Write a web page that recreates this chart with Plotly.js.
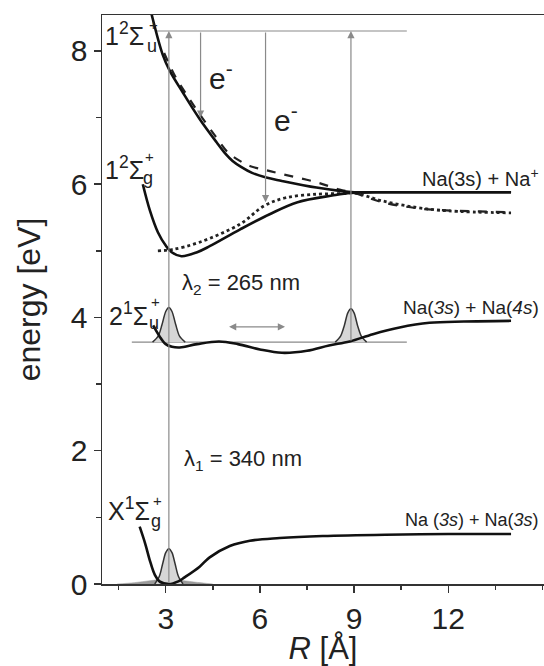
<!DOCTYPE html>
<html><head><meta charset="utf-8">
<script src="https://cdn.plot.ly/plotly-3.0.1.min.js"></script>
<style>html,body{margin:0;padding:0;background:#fff}</style>
</head><body><div id="chart" style="width:544px;height:666px"></div>
<script>
// ---- Potential energy curves (R in Å, energy in eV) ----
const groundR = [2.17, 2.35, 2.49, 2.65, 2.8, 3.1, 3.4, 3.6, 4.08, 4.4, 5.04, 5.68, 6.63, 8.0, 10.0, 12.0, 14.0];
const groundE = [0.86, 0.6, 0.36, 0.14, 0.04, 0.0, 0.04, 0.1, 0.26, 0.4, 0.57, 0.65, 0.69, 0.72, 0.74, 0.75, 0.75];

const excR = [2.6, 2.8, 3.0, 3.2, 3.45, 4.0, 4.7, 5.3, 6.0, 6.7, 7.5, 8.2, 8.86, 9.6, 10.45, 11.4, 12.5, 14.0];
const excE = [3.88, 3.72, 3.6, 3.56, 3.55, 3.6, 3.64, 3.6, 3.52, 3.47, 3.5, 3.58, 3.64, 3.75, 3.85, 3.92, 3.94, 3.95];

const ionGR = [2.27, 2.5, 2.75, 3.0, 3.19, 3.5, 4.0, 4.4, 5.36, 6.31, 7.2, 8.3, 8.9, 10.0, 12.0, 14.0];
const ionGE = [6.0, 5.6, 5.28, 5.08, 4.98, 4.92, 4.98, 5.07, 5.32, 5.55, 5.73, 5.83, 5.87, 5.88, 5.88, 5.88];

const ionUR = [2.45, 2.55, 2.9, 3.13, 3.54, 4.08, 4.62, 4.9, 5.13, 5.4, 5.75, 6.2, 6.7, 7.8, 8.54, 9.0, 10.0, 12.0, 14.0];
const ionUE = [8.75, 8.55, 7.95, 7.7, 7.38, 6.98, 6.63, 6.46, 6.35, 6.26, 6.17, 6.1, 6.05, 5.95, 5.9, 5.88, 5.88, 5.88, 5.88];

const dashR = [2.95, 3.3, 3.7, 4.1, 4.6, 5.0, 5.4, 5.7, 6.2, 6.73, 7.8, 8.54, 9.0, 9.9, 11.0, 11.8, 14.0];
const dashE = [7.97, 7.62, 7.32, 7.04, 6.71, 6.47, 6.34, 6.27, 6.21, 6.15, 6.03, 5.92, 5.87, 5.73, 5.64, 5.61, 5.58];

const dotR = [2.75, 3.2, 4.08, 5.36, 6.15, 6.85, 7.8, 8.64, 9.0, 9.9, 11.0, 12.0, 14.0];
const dotE = [5.0, 5.02, 5.13, 5.4, 5.68, 5.8, 5.85, 5.86, 5.87, 5.75, 5.65, 5.6, 5.57];

// ---- Wave packets ----
const wpGroundR = [2.65, 2.8, 2.9, 3.0, 3.1, 3.2, 3.3, 3.4, 3.55];
const wpGroundE = [0, 0.12, 0.3, 0.47, 0.53, 0.47, 0.3, 0.12, 0];
const wpShadowR = [1.45, 2.0, 2.5, 2.9, 3.1, 3.4, 3.9, 4.5];
const wpShadowE = [0, 0.02, 0.05, 0.07, 0.07, 0.06, 0.03, 0];
const wpInnerR = [2.58, 2.76, 2.88, 3.0, 3.1, 3.2, 3.32, 3.44, 3.62];
const wpInnerE = [3.63, 3.72, 3.89, 4.09, 4.15, 4.09, 3.89, 3.72, 3.63];
const wpOuterR = [8.4, 8.57, 8.69, 8.8, 8.9, 9.0, 9.11, 9.23, 9.4];
const wpOuterE = [3.63, 3.72, 3.88, 4.07, 4.13, 4.07, 3.88, 3.72, 3.63];

// ---- Reference levels ----
const topLevelR = [2.71, 10.68];
const topLevelE = [8.3, 8.3];
const midLevelR = [1.92, 10.68];
const midLevelE = [3.63, 3.63];

// ---- Arrows (tail -> head) ----
const arrowTailR = [3.1, 4.11, 6.18, 8.9, 4.97];
const arrowTailE = [0, 8.3, 8.3, 3.63, 3.86];
const arrowHeadR = [3.1, 4.11, 6.18, 8.9, 6.8];
const arrowHeadE = [8.3, 7.0, 5.73, 8.3, 3.86];
const arrowSides = ['end', 'end', 'end', 'end', 'end+start'];

// ---- Axis ticks ----
const xTicks = [3, 6, 9, 12];
const yTicks = [0, 2, 4, 6, 8];

const FONT = 'Liberation Sans, Arial, sans-serif';
const INK = '#111';
const GRAY = '#8a8a8a';

const traces = [];
function line(x, y, opts) {
  traces.push(Object.assign({type: 'scatter', mode: 'lines', x: x, y: y, hoverinfo: 'skip', showlegend: false}, opts));
}
line(topLevelR, topLevelE, {line: {color: GRAY, width: 1.2}});
line(midLevelR, midLevelE, {line: {color: GRAY, width: 1.2}});
line(wpShadowR, wpShadowE, {fill: 'toself', fillcolor: '#9a9a9a', line: {color: '#9a9a9a', width: 0.5, shape: 'spline'}});
[[wpGroundR, wpGroundE], [wpInnerR, wpInnerE], [wpOuterR, wpOuterE]].forEach(function (p) {
  line(p[0], p[1], {fill: 'toself', fillcolor: '#d6d6d6', line: {color: '#333', width: 1.5, shape: 'spline', smoothing: 0.8}});
});
line(dashR, dashE, {line: {color: '#222', width: 2.2, dash: 'dash', shape: 'spline'}});
line(dotR, dotE, {line: {color: '#222', width: 2.8, dash: 'dot', shape: 'spline'}});
line(groundR, groundE, {line: {color: INK, width: 2.6, shape: 'spline'}});
line(excR, excE, {line: {color: INK, width: 2.6, shape: 'spline'}});
line(ionGR, ionGE, {line: {color: INK, width: 2.6, shape: 'spline'}});
line(ionUR, ionUE, {line: {color: INK, width: 2.6, shape: 'spline'}});

const annotations = [];
for (let i = 0; i < arrowTailR.length; i++) {
  annotations.push({
    x: arrowHeadR[i], y: arrowHeadE[i], ax: arrowTailR[i], ay: arrowTailE[i],
    xref: 'x', yref: 'y', axref: 'x', ayref: 'y', text: '',
    showarrow: true, arrowhead: 2, arrowsize: 1.2, arrowwidth: 1.2,
    arrowcolor: GRAY, arrowside: arrowSides[i], standoff: 0, startstandoff: 0
  });
}
function label(text, x, y, size, anchor) {
  annotations.push({x: x, y: y, xref: 'x', yref: 'y', text: text, showarrow: false,
    xanchor: anchor || 'left', yanchor: 'middle', font: {family: FONT, size: size, color: '#222'}});
}
// state labels: main part, then stacked subscript / superscript
label('1<sup>2</sup>Σ', 0.99, 8.26, 25);
label('u', 2.33, 8.07, 18);
label('+', 2.39, 8.4, 15);
label('1<sup>2</sup>Σ', 0.99, 6.25, 25);
label('g', 2.2, 6.09, 18);
label('+', 2.26, 6.42, 15);
label('2<sup>1</sup>Σ', 1.12, 4.05, 25);
label('u', 2.39, 3.92, 18);
label('+', 2.47, 4.24, 15);
label('X<sup>1</sup>Σ', 1.1, 1.12, 25);
label('g', 2.47, 0.94, 18);
label('+', 2.53, 1.26, 15);
label('e<sup>-</sup>', 4.31, 7.62, 30);
label('e<sup>-</sup>', 6.38, 7.0, 30);
label('λ<sub>2</sub> = 265 nm', 3.45, 4.5, 22);
label('λ<sub>1</sub> = 340 nm', 3.51, 1.86, 22);
label('Na(3s) + Na<sup>+</sup>', 14.95, 6.1, 20, 'right');
label('Na(<i>3s</i>) + Na(<i>4s</i>)', 14.97, 4.15, 19, 'right');
label('Na (<i>3s</i>) + Na(<i>3s</i>)', 14.95, 0.96, 18, 'right');

const layout = {
  width: 544, height: 666,
  margin: {l: 102, r: 0, t: 15, b: 82},
  paper_bgcolor: '#fff', plot_bgcolor: '#fff',
  showlegend: false,
  font: {family: FONT, color: '#222'},
  xaxis: {
    range: [0.97, 15.05], tickvals: xTicks, ticktext: xTicks.map(String),
    ticks: 'outside', ticklen: 7, tickwidth: 1.5, tickcolor: '#333',
    minor: {dtick: 1.5, tick0: 0, ticks: 'outside', ticklen: 4, tickwidth: 1.5, tickcolor: '#333'},
    showline: true, linecolor: '#333', linewidth: 1.5, mirror: true,
    showgrid: false, zeroline: false,
    tickfont: {family: FONT, size: 30, color: '#222'},
    title: {text: '<i>R</i> [Å]', font: {family: FONT, size: 31, color: '#222'}, standoff: 4}
  },
  yaxis: {
    range: [0, 8.54], tickvals: yTicks, ticktext: yTicks.map(String),
    ticks: 'outside', ticklen: 7, tickwidth: 1.5, tickcolor: '#333',
    minor: {dtick: 1, tick0: 0, ticks: 'outside', ticklen: 5, tickwidth: 1.5, tickcolor: '#333'},
    showline: true, linecolor: '#333', linewidth: 1.5, mirror: false,
    showgrid: false, zeroline: false, ticklabelstandoff: 0,
    tickfont: {family: FONT, size: 30, color: '#222'},
    title: {text: 'energy [eV]', font: {family: FONT, size: 32, color: '#222'}, standoff: 20}
  },
  annotations: annotations
};
Plotly.newPlot('chart', traces, layout, {staticPlot: true, displayModeBar: false});
</script>
</body></html>
